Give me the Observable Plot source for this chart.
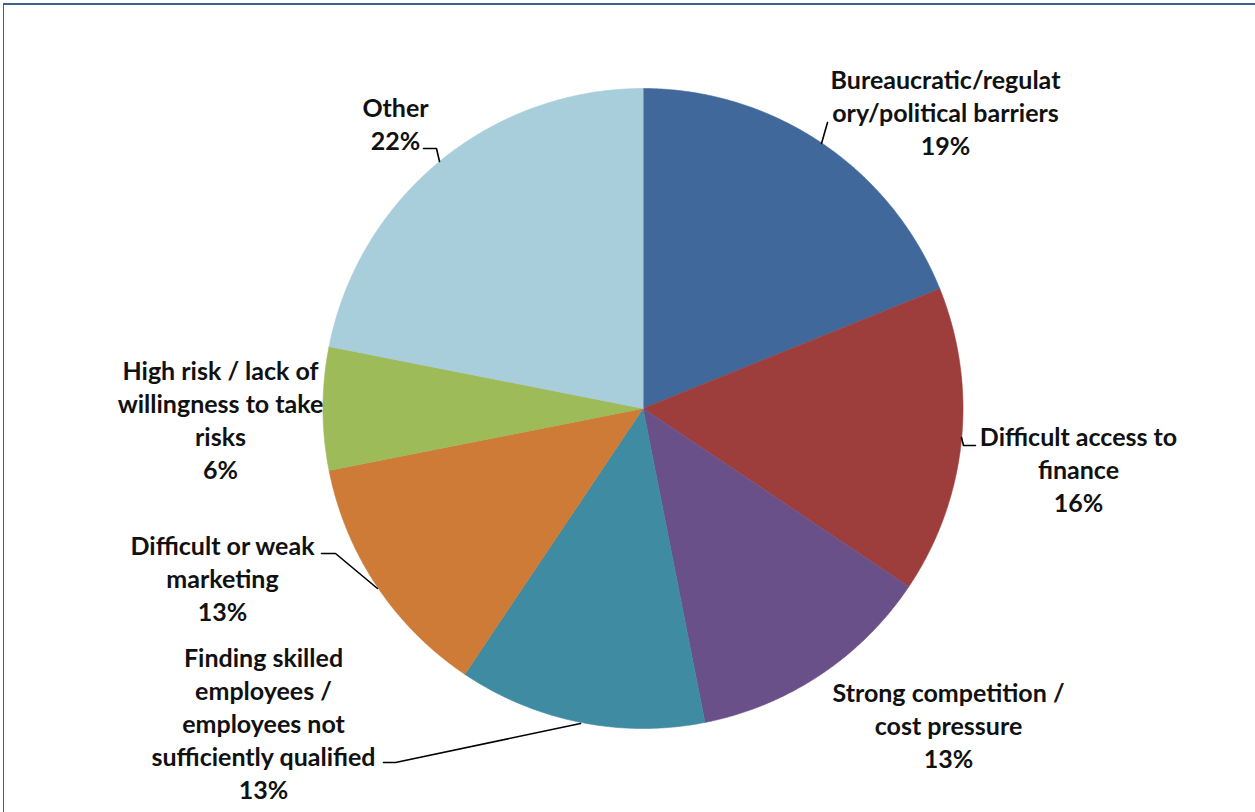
<!DOCTYPE html>
<html><head><meta charset="utf-8">
<script src="https://cdn.jsdelivr.net/npm/d3@7"></script>
<script src="https://cdn.jsdelivr.net/npm/@observablehq/plot@0.6"></script>
<style>
html,body{margin:0;padding:0;background:#fff;overflow:hidden;}
#wrap{position:relative;width:1255px;height:812px;}
#border{position:absolute;left:3px;top:3px;width:1300px;height:900px;border-top:2px solid #3A6193;border-left:1px solid #3A6193;pointer-events:none;}
</style></head><body><div id="wrap"><div id="chart"></div><div id="border"></div></div>
<script>
// ---- data ----
const categories = [
  "Bureaucratic/regulatory/political barriers",
  "Difficult access to finance",
  "Strong competition / cost pressure",
  "Finding skilled employees / employees not sufficiently qualified",
  "Difficult or weak marketing",
  "High risk / lack of willingness to take risks",
  "Other"
];
const labelLines = [
  ["Bureaucratic/regulat", "ory/political barriers"],
  ["Difficult access to", "finance"],
  ["Strong competition /", "cost pressure"],
  ["Finding skilled", "employees /", "employees not", "sufficiently qualified"],
  ["Difficult or weak", "marketing"],
  ["High risk / lack of", "willingness to take", "risks"],
  ["Other"]
];
const values = [18.9, 15.5, 12.5, 12.5, 12.5, 6.2, 21.9];
const colors = ["#41689A", "#9E3E3C", "#6A5088", "#3F8BA2", "#CD7B37", "#9DBB58", "#A8CDDB"];

// ---- layout ----
const W = 1255, H = 812, CX = 642.5, CY = 408, R = 320;
const labelPos = [[945, 111], [1078, 468], [948, 724], [263, 722], [222, 577], [220, 418], [395, 122]];
const leaders = [
  [[821, 143], [827, 122]],
  [[961, 437], [963, 445], [975, 445]],
  null,
  [[580, 723], [395, 762], [383, 762]],
  [[377, 588], [335, 553], [321, 553]],
  null,
  [[439, 161], [436, 148], [423, 148]]
];

const total = d3.sum(values);
const arcs = d3.pie().sort(null).value(d => d)(values);
const slicePts = [];
arcs.forEach((a, i) => {
  const cat = categories[i];
  slicePts.push({cat, x: CX, y: CY});
  const n = Math.max(8, Math.ceil((a.endAngle - a.startAngle) / 0.005));
  for (let k = 0; k <= n; k++) {
    const t = a.startAngle + (a.endAngle - a.startAngle) * k / n;
    slicePts.push({cat, x: CX + R * Math.sin(t), y: CY - R * Math.cos(t)});
  }
});

const labelData = categories.map((c, i) => ({
  cat: c,
  x: labelPos[i][0],
  y: labelPos[i][1],
  text: labelLines[i].join("\n") + "\n" + Math.round(values[i] / total * 100) + "%"
}));

const leaderPts = [];
leaders.forEach((l, i) => { if (l) l.forEach(p => leaderPts.push({cat: categories[i], x: p[0], y: p[1]})); });

const chart = Plot.plot({
  width: W, height: H, margin: 0,
  style: {fontFamily: "Lato, 'Open Sans', sans-serif", background: "#fff"},
  x: {domain: [0, W], range: [0, W], axis: null},
  y: {domain: [0, H], range: [0, H], axis: null},
  color: {type: "ordinal", domain: categories, range: colors},
  marks: [
    Plot.line(slicePts, {x: "x", y: "y", z: "cat", fill: "cat", stroke: "cat", strokeWidth: 0.6, curve: "linear-closed"}),
    Plot.line(leaderPts, {x: "x", y: "y", z: "cat", stroke: "#000", strokeWidth: 1.6}),
    Plot.text(labelData, {x: "x", y: "y", text: "text", fontSize: 25, fontWeight: "bold", lineHeight: 1.32,
      textAnchor: "middle", lineAnchor: "middle", fill: "#111"})
  ]
});
document.getElementById("chart").appendChild(chart);
</script>
</body></html>
